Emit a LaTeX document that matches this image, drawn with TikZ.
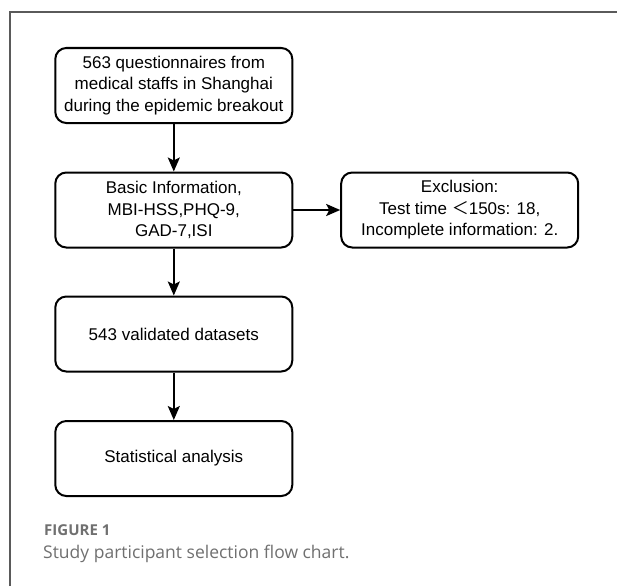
\documentclass[tikz,border=0pt]{standalone}
\usepackage{fontspec}
\setmainfont{Liberation Sans}
\newfontfamily\cjk{Noto Sans CJK SC}
\newfontfamily\capfont{Open Sans}
\usetikzlibrary{arrows.meta}
\definecolor{framegray}{HTML}{5A5A5A}
\definecolor{capgray}{HTML}{707070}
\tikzset{
  flowbox/.style={draw=black, line width=2pt, rounded corners=11pt,
    minimum width=237pt, minimum height=75pt, align=center, inner sep=0pt,
    font=\fontsize{17}{21.5}\selectfont},
  flowarrow/.style={draw=black, line width=2pt,
    -{Stealth[length=14pt,width=12pt,inset=3pt]}},
}
\begin{document}
\begin{tikzpicture}[x=1pt,y=-1pt]
\useasboundingbox (0,0) rectangle (617,586);
\fill[white] (0,0) rectangle (617,586);
\draw[framegray, line width=1.5pt] (10,586) -- (10,12) -- (617,12);
\node[flowbox] (b1) at (173.8,85.5) {563 questionnaires from\\medical staffs in Shanghai\\during the epidemic breakout};
\node[flowbox] (b2) at (173.8,210) {Basic Information,\\MBI-HSS,PHQ-9,\\GAD-7,ISI};
\node[flowbox] (b3) at (459.7,210) {Exclusion:\\Test time {\cjk ＜}150s: 18,\\Incomplete information: 2.};
\node[flowbox] (b4) at (173.8,334) {543 validated datasets};
\node[flowbox] (b5) at (173.8,458.5) {Statistical analysis};
\draw[flowarrow] (b1) -- (b2);
\draw[flowarrow] (b2) -- (b3);
\draw[flowarrow] (b2) -- (b4);
\draw[flowarrow] (b4) -- (b5);
\node[anchor=west, inner sep=0pt, text=capgray, font=\capfont\bfseries\fontsize{15}{18}\selectfont] (fig) at (44,530) {FIGURE 1};
\node[anchor=west, inner sep=0pt, text=capgray, font=\capfont\fontsize{17.5}{21}\selectfont] (cap) at (43,554) {Study participant selection flow chart.};
\end{tikzpicture}
\end{document}
